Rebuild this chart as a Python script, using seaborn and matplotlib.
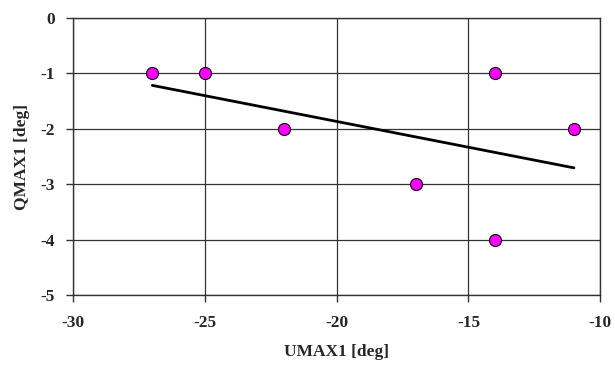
import seaborn as sns
import matplotlib.pyplot as plt
import pandas as pd

# valores
umax1 = [-27, -25, -22, -17, -14, -14, -11]
qmax1 = [-1, -1, -2, -3, -1, -4, -2]
x_ticks = [-30, -25, -20, -15, -10]
y_ticks = [0, -1, -2, -3, -4, -5]

df = pd.DataFrame({"UMAX1": umax1, "QMAX1": qmax1})

sns.set_style("white")
plt.rcParams["font.family"] = ["Liberation Serif", "DejaVu Serif"]
plt.rcParams["font.weight"] = "bold"
plt.rcParams["axes.unicode_minus"] = False

fig = plt.figure(figsize=(6.15, 3.67), dpi=100)
ax = fig.add_axes([0.119, 0.196, 0.857, 0.755])

sns.regplot(data=df, x="UMAX1", y="QMAX1", ci=None, ax=ax, truncate=True,
            scatter_kws={"s": 75, "color": "#ff00ff", "edgecolor": "black",
                         "linewidths": 0.8, "alpha": 1, "zorder": 3},
            line_kws={"color": "black", "lw": 2, "zorder": 2})

ax.set_xlim(-30, -10)
ax.set_ylim(-5, 0)
ax.set_xticks(x_ticks)
ax.set_yticks(y_ticks)
ax.grid(True, color="#333333", lw=0.9)
ax.set_axisbelow(True)
for s in ax.spines.values():
    s.set_color("#333333")
    s.set_linewidth(1)
ax.tick_params(direction="out", length=5, width=1, color="#333333",
               labelsize=12.5, left=True, bottom=True)
ax.tick_params(axis="x", pad=9)
ax.tick_params(axis="y", pad=8)
for lab in ax.get_xticklabels() + ax.get_yticklabels():
    lab.set_fontweight("bold")
ax.set_xlabel("UMAX1 [deg]", fontsize=12.5, fontweight="bold", labelpad=10)
ax.set_ylabel("QMAX1 [deg]", fontsize=12.5, fontweight="bold", labelpad=8)

fig.savefig("out.png", dpi=100)
